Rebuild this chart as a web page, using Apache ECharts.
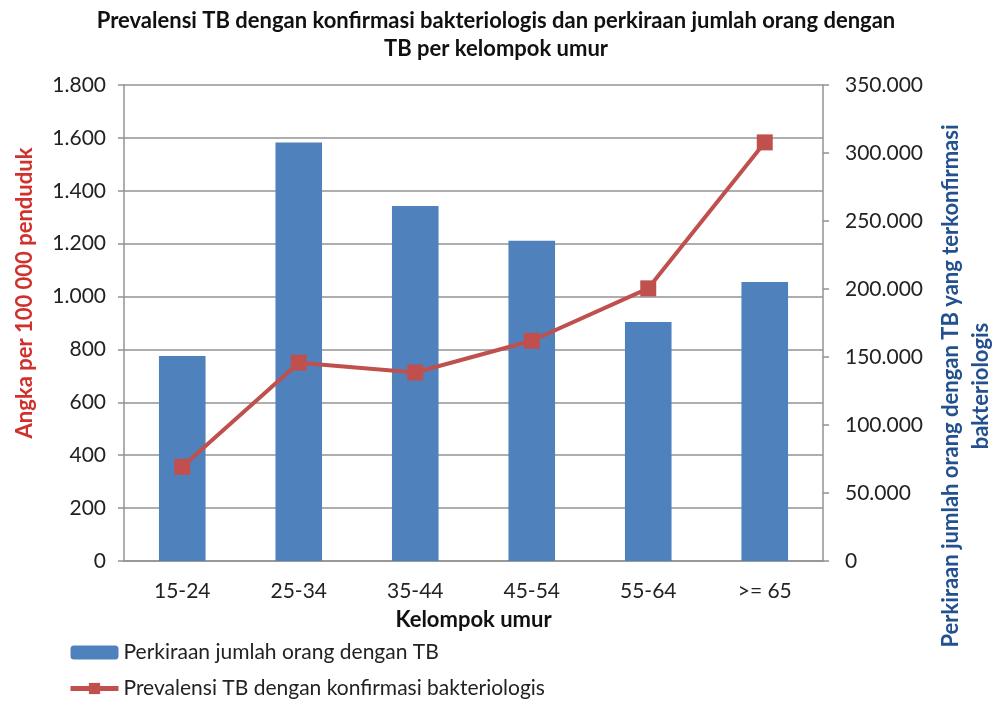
<!doctype html>
<html>
<head>
<meta charset="utf-8">
<title>Prevalensi TB</title>
<script src="https://cdn.jsdelivr.net/npm/echarts@6/dist/echarts.min.js"></script>
<style>
  html, body { margin: 0; padding: 0; background: #fff; }
  #chart { width: 992px; height: 704px; }
</style>
</head>
<body>
<div id="chart"></div>
<script>
// data
var kelompokUmur = ['15-24', '25-34', '35-44', '45-54', '55-64', '>= 65'];
var jumlahOrang = [150700, 307700, 261100, 235400, 175700, 205200];   // bars, right axis
var prevalensi = [356, 750, 713, 833, 1031, 1583];                    // line, left axis

function titik(v) {
  return String(v).replace(/\B(?=(\d{3})+(?!\d))/g, '.');
}

var chart = echarts.init(document.getElementById('chart'));
var fontUtama = 'Lato, "Open Sans", sans-serif';
var abu = '#939393';

var option = {
  animation: false,
  textStyle: { fontFamily: fontUtama },
  title: {
    text: 'Prevalensi TB dengan konfirmasi bakteriologis dan perkiraan jumlah orang dengan\nTB per kelompok umur',
    left: 'center',
    top: 2,
    textStyle: { fontSize: 22, fontWeight: 'bold', color: '#111', lineHeight: 28, fontFamily: fontUtama }
  },
  legend: {
    orient: 'vertical',
    left: 68,
    top: 642,
    height: 100,
    padding: 0,
    itemGap: 15,
    itemWidth: 48,
    itemHeight: 14,
    lineStyle: { width: 5 },
    textStyle: { fontSize: 21, color: '#222', fontFamily: fontUtama },
    data: ['Perkiraan jumlah orang dengan TB', 'Prevalensi TB dengan konfirmasi bakteriologis']
  },
  grid: { left: 124, right: 169, top: 85, bottom: 143, outerBoundsMode: 'none' },
  xAxis: {
    type: 'category',
    data: kelompokUmur,
    name: 'Kelompok umur',
    nameLocation: 'middle',
    nameGap: 48,
    nameTextStyle: { fontSize: 22, fontWeight: 'bold', color: '#111' },
    axisLine: { lineStyle: { color: abu, width: 1.5 } },
    axisTick: { length: 6, lineStyle: { color: abu, width: 1.5 } },
    axisLabel: { fontSize: 21, color: '#222', margin: 20 }
  },
  yAxis: [
    {
      type: 'value',
      min: 0,
      max: 1800,
      interval: 200,
      name: 'Angka per 100 000 penduduk',
      nameLocation: 'middle',
      nameGap: 88,
      nameTextStyle: { fontSize: 22, fontWeight: 'bold', color: '#d0312d', padding: [0, 0, 0, 60] },
      axisLine: { show: true, lineStyle: { color: abu, width: 1.5 } },
      axisTick: { show: true, length: 6, lineStyle: { color: abu, width: 1.5 } },
      splitLine: { lineStyle: { color: abu, width: 1.5 } },
      axisLabel: { fontSize: 21, color: '#222', margin: 18, formatter: titik }
    },
    {
      type: 'value',
      min: 0,
      max: 350000,
      interval: 50000,
      position: 'right',
      name: 'Perkiraan jumlah orang dengan TB yang terkonfirmasi\nbakteriologis',
      nameLocation: 'middle',
      nameRotate: 90,
      nameGap: 113,
      nameTextStyle: { fontSize: 22, fontWeight: 'bold', color: '#23508f', lineHeight: 30, padding: [0, 126, 0, 0] },
      axisLine: { show: true, lineStyle: { color: abu, width: 1.5 } },
      axisTick: { show: true, length: 6, lineStyle: { color: abu, width: 1.5 } },
      splitLine: { show: false },
      axisLabel: { fontSize: 21, color: '#222', margin: 22, formatter: titik }
    }
  ],
  series: [
    {
      name: 'Perkiraan jumlah orang dengan TB',
      type: 'bar',
      yAxisIndex: 1,
      barWidth: '40%',
      itemStyle: { color: '#4f81bd' },
      data: jumlahOrang
    },
    {
      name: 'Prevalensi TB dengan konfirmasi bakteriologis',
      type: 'line',
      yAxisIndex: 0,
      symbol: 'rect',
      symbolSize: 16,
      lineStyle: { color: '#c0504d', width: 4 },
      itemStyle: { color: '#c0504d' },
      data: prevalensi
    }
  ]
};

chart.setOption(option);
</script>
</body>
</html>
